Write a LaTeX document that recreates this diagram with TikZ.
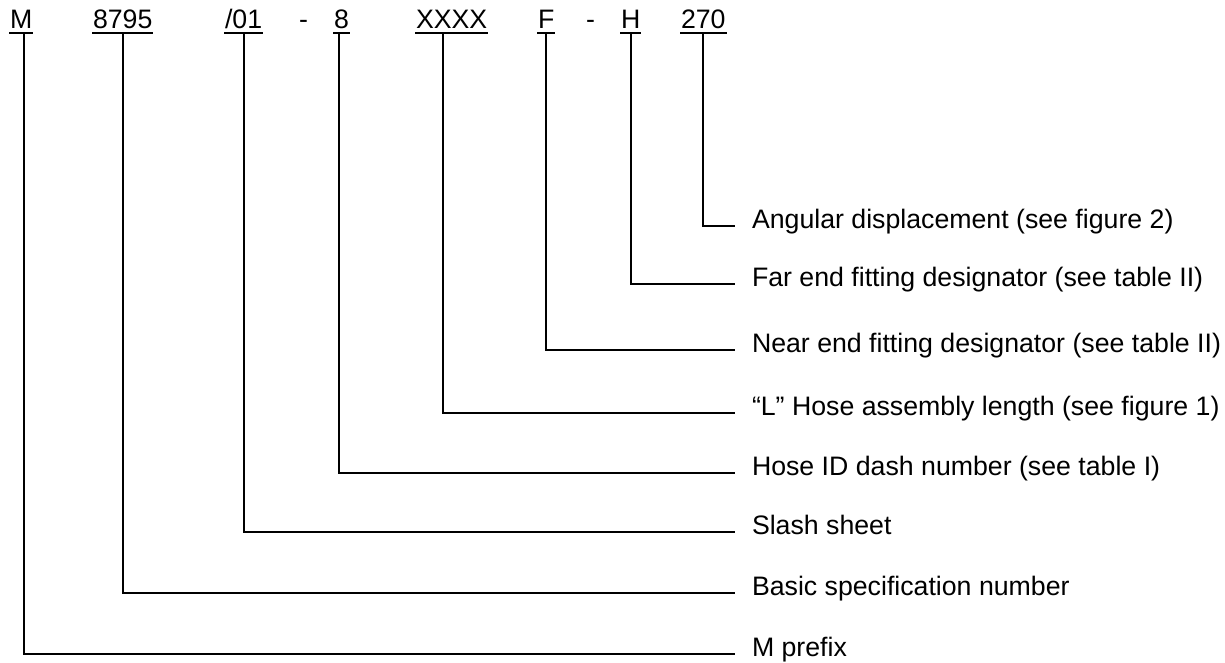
\documentclass[tikz,border=0pt]{standalone}
\usepackage{fontspec}
\setmainfont{Liberation Sans}
\begin{document}
\begin{tikzpicture}[x=1pt, y=-1pt, line width=2pt,
    code/.style={anchor=south west, inner xsep=0pt, inner ysep=4pt, text depth=0pt, font=\fontsize{26.7}{32}\selectfont},
    desc/.style={anchor=west, inner sep=0pt, text height=19.2pt, text depth=15.2pt, font=\fontsize{26.7}{32}\selectfont},
    lead/.style={shorten >=16pt}]
\useasboundingbox (0,0) rectangle (1225,662);

% Part number
\node[code] (tM) at (9,33) {M};
\node[code] (tSpec) at (92,33) {8795};
\node[code] (tSlash) at (224,33) {/01};
\node[code] (dA) at (298,33) {-};
\node[code] (tDash) at (333,33) {8};
\node[code] (tLen) at (415,33) {XXXX};
\node[code] (tNear) at (537,33) {F};
\node[code] (dB) at (585,33) {-};
\node[code] (tFar) at (620,33) {H};
\node[code] (tAng) at (680,33) {270};
\foreach \n in {tM,tSpec,tSlash,tDash,tLen,tNear,tFar,tAng}
    \draw (\n.south west) -- (\n.south east);

% Descriptions
\node[desc] (lAng) at (751,226) {Angular displacement (see figure 2)};
\node[desc] (lFar) at (751,284) {Far end fitting designator (see table II)};
\node[desc] (lNear) at (751,350) {Near end fitting designator (see table II)};
\node[desc] (lLen) at (751,413) {“L” Hose assembly length (see figure 1)};
\node[desc] (lDash) at (751,473) {Hose ID dash number (see table I)};
\node[desc] (lSlash) at (751,532) {Slash sheet};
\node[desc] (lSpec) at (751,593) {Basic specification number};
\node[desc] (lM) at (751,654) {M prefix};

% Leaders
\draw[lead] (tAng.south) |- (lAng.west);
\draw[lead] (tFar.south) |- (lFar.west);
\draw[lead] (tNear.south) |- (lNear.west);
\draw[lead] ([xshift=-9pt]tLen.south) |- (lLen.west);
\draw[lead] ([xshift=-2pt]tDash.south) |- (lDash.west);
\draw[lead] (tSlash.south) |- (lSlash.west);
\draw[lead] (tSpec.south) |- (lSpec.west);
\draw[lead] ([xshift=3pt]tM.south) |- (lM.west);
\end{tikzpicture}
\end{document}
